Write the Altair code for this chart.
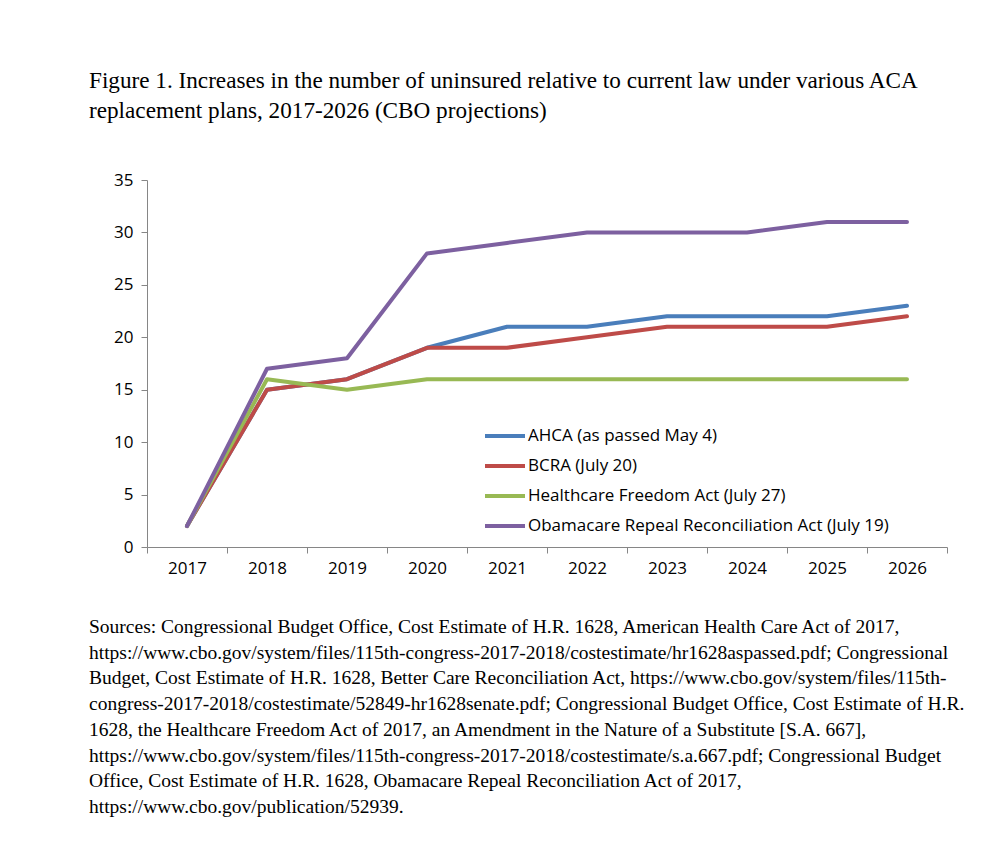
import altair as alt
import pandas as pd

years = [2017, 2018, 2019, 2020, 2021, 2022, 2023, 2024, 2025, 2026]
series_names = [
    "AHCA (as passed May 4)",
    "BCRA (July 20)",
    "Healthcare Freedom Act (July 27)",
    "Obamacare Repeal Reconciliation Act (July 19)",
]
ahca = [2, 15, 16, 19, 21, 21, 22, 22, 22, 23]
bcra = [2, 15, 16, 19, 19, 20, 21, 21, 21, 22]
hfa = [2, 16, 15, 16, 16, 16, 16, 16, 16, 16]
orra = [2, 17, 18, 28, 29, 30, 30, 30, 31, 31]
colors = ["#4A7EBB", "#BE4B48", "#98B954", "#7D60A0"]

title_lines = [
    "Figure 1. Increases in the number of uninsured relative to current law under various ACA",
    "replacement plans, 2017-2026 (CBO projections)",
]
source_lines = [
    "Sources: Congressional Budget Office, Cost Estimate of H.R. 1628, American Health Care Act of 2017,",
    "https://www.cbo.gov/system/files/115th-congress-2017-2018/costestimate/hr1628aspassed.pdf; Congressional",
    "Budget, Cost Estimate of H.R. 1628, Better Care Reconciliation Act, https://www.cbo.gov/system/files/115th-",
    "congress-2017-2018/costestimate/52849-hr1628senate.pdf; Congressional Budget Office, Cost Estimate of H.R.",
    "1628, the Healthcare Freedom Act of 2017, an Amendment in the Nature of a Substitute [S.A. 667],",
    "https://www.cbo.gov/system/files/115th-congress-2017-2018/costestimate/s.a.667.pdf; Congressional Budget",
    "Office, Cost Estimate of H.R. 1628, Obamacare Repeal Reconciliation Act of 2017,",
    "https://www.cbo.gov/publication/52939.",
]

rows = []
for name, vals in zip(series_names, [ahca, bcra, hfa, orra]):
    for y, v in zip(years, vals):
        rows.append({"year": str(y), "value": v, "series": name})
df = pd.DataFrame(rows)

W, H = 800, 367
axis_font = "Open Sans"

lines = alt.Chart(df).mark_line(strokeWidth=4, strokeCap="round", strokeJoin="round").encode(
    x=alt.X(
        "year:O",
        bandPosition=0.5,
        scale=alt.Scale(type="band", paddingInner=0, paddingOuter=0),
        axis=alt.Axis(
            title=None, labelAngle=0, tickBand="extent", domainColor="#868686",
            tickColor="#868686", tickSize=6, labelFont=axis_font, labelFontSize=17,
            labelColor="#000000", labelPadding=7, grid=False,
        ),
    ),
    y=alt.Y(
        "value:Q",
        scale=alt.Scale(domain=[0, 35], nice=False),
        axis=alt.Axis(
            title=None, values=[0, 5, 10, 15, 20, 25, 30, 35], domainColor="#868686",
            tickColor="#868686", tickSize=6, labelFont=axis_font, labelFontSize=17,
            labelColor="#000000", labelPadding=8, grid=False,
        ),
    ),
    color=alt.Color(
        "series:N",
        scale=alt.Scale(domain=series_names, range=colors),
        sort=series_names,
        legend=alt.Legend(
            title=None, orient="none", legendX=336, legendY=234, symbolType="stroke",
            symbolSize=1600, symbolStrokeWidth=4, labelFont=axis_font, labelFontSize=17,
            labelColor="#000000", rowPadding=-8.5, labelOffset=1, labelLimit=500,
        ),
    ),
    order=alt.Order("year:O"),
)

one = pd.DataFrame({"k": [0]})
title = alt.Chart(one).mark_text(
    text=title_lines, font="Liberation Serif", fontSize=23.2, align="left",
    baseline="alphabetic", lineHeight=30, color="#000000",
).encode(x=alt.value(-58), y=alt.value(-92))

source = alt.Chart(one).mark_text(
    text=source_lines, font="Liberation Serif", fontSize=19.5, align="left",
    baseline="alphabetic", lineHeight=25.7, color="#000000",
).encode(x=alt.value(-58), y=alt.value(453))

chart = alt.layer(lines, title, source).properties(
    width=W, height=H,
    autosize=alt.AutoSizeParams(type="none"),
    padding={"left": 139, "top": 172, "right": 45, "bottom": 288},
    background="#ffffff",
).configure_view(stroke=None)

chart.save("out.html", embed_options={"renderer": "svg", "actions": False})
